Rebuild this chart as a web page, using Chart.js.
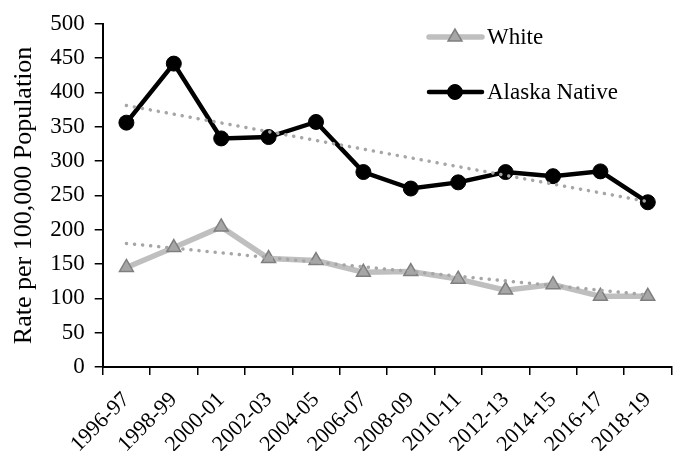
<!DOCTYPE html>
<html>
<head>
<meta charset="utf-8">
<script src="https://cdn.jsdelivr.net/npm/chart.js@4"></script>
<style>
  body { margin: 0; background: #fff; }
  #wrap { width: 681px; height: 451px; }
</style>
</head>
<body>
<div id="wrap"><canvas id="chart"></canvas></div>
<script>
// categories and values
const years = ["1996-97","1998-99","2000-01","2002-03","2004-05","2006-07",
               "2008-09","2010-11","2012-13","2014-15","2016-17","2018-19"];
const white = [145, 174, 204, 158, 155, 138, 139, 128, 112, 120, 103, 103];
const alaska = [356, 442, 333, 335, 357, 284, 260, 269, 284, 278, 285, 240];
// linear trend lines, only the end points
const trendWhite = [180, null, null, null, null, null, null, null, null, null, null, 105];
const trendAlaska = [381, null, null, null, null, null, null, null, null, null, null, 241];
const yTicks = [0, 50, 100, 150, 200, 250, 300, 350, 400, 450, 500];

const FONT = "'Liberation Serif', 'Times New Roman', serif";

// legend drawn by hand, two rows far apart like the original
const legendBox = {
  id: 'legendBox',
  afterDraw(chart) {
    const ctx = chart.ctx;
    const rows = [
      { ds: chart.data.datasets[0], y: 37 },
      { ds: chart.data.datasets[1], y: 92 }
    ];
    ctx.save();
    rows.forEach(r => {
      ctx.strokeStyle = r.ds.borderColor;
      ctx.lineWidth = r.ds.borderWidth;
      ctx.lineCap = 'round';
      ctx.beginPath();
      ctx.moveTo(429, r.y);
      ctx.lineTo(482, r.y);
      ctx.stroke();
      ctx.fillStyle = r.ds.pointBackgroundColor;
      ctx.strokeStyle = r.ds.pointBorderColor;
      ctx.lineWidth = r.ds.pointBorderWidth;
      Chart.helpers.drawPoint(ctx, {
        pointStyle: r.ds.pointStyle,
        radius: r.ds.pointRadius,
        borderWidth: r.ds.pointBorderWidth,
        rotation: 0
      }, 455, r.y);
      ctx.fillStyle = '#000';
      ctx.font = '23px ' + FONT;
      ctx.textBaseline = 'middle';
      ctx.fillText(r.ds.label, 487, r.y + 1);
    });
    ctx.restore();
  }
};

const ctx = document.getElementById('chart').getContext('2d');
new Chart(ctx, {
  type: 'line',
  data: {
    labels: years,
    datasets: [
      {
        label: 'White',
        data: white,
        borderColor: '#bfbfbf',
        borderWidth: 5.5,
        pointStyle: 'triangle',
        pointRadius: 8,
        pointBackgroundColor: '#a6a6a6',
        pointBorderColor: '#7f7f7f',
        pointBorderWidth: 1.5,
        tension: 0,
        order: 3
      },
      {
        label: 'Alaska Native',
        data: alaska,
        borderColor: '#000',
        borderWidth: 4.5,
        pointStyle: 'circle',
        pointRadius: 7.5,
        pointBackgroundColor: '#000',
        pointBorderColor: '#000',
        pointBorderWidth: 1,
        tension: 0,
        order: 2
      },
      {
        label: 'trend white',
        data: trendWhite,
        spanGaps: true,
        borderColor: '#a6a6a6',
        borderWidth: 3.5,
        borderDash: [0.1, 8],
        borderCapStyle: 'round',
        pointRadius: 0,
        order: 1
      },
      {
        label: 'trend alaska',
        data: trendAlaska,
        spanGaps: true,
        borderColor: '#a6a6a6',
        borderWidth: 3.5,
        borderDash: [0.1, 8],
        borderCapStyle: 'round',
        pointRadius: 0,
        order: 1
      }
    ]
  },
  options: {
    responsive: true,
    maintainAspectRatio: false,
    animation: false,
    layout: { padding: { top: 10, right: 9, left: 9, bottom: 0 } },
    plugins: {
      legend: { display: false },
      tooltip: { enabled: false }
    },
    scales: {
      x: {
        offset: true,
        afterFit(scale) { scale.height = 84; },
        grid: { display: true, drawOnChartArea: false, drawTicks: true, tickLength: 8, color: '#000', lineWidth: 1.5, offset: true },
        border: { color: '#000', width: 2 },
        ticks: {
          color: '#000',
          font: { family: FONT, size: 22 },
          minRotation: 45,
          maxRotation: 45,
          autoSkip: false,
          padding: 12
        }
      },
      y: {
        min: 0,
        max: 500,
        afterBuildTicks(axis) { axis.ticks = yTicks.map(v => ({ value: v })); },
        grid: { display: true, drawOnChartArea: false, drawTicks: true, tickLength: 8, color: '#000', lineWidth: 1.5 },
        border: { color: '#000', width: 2 },
        ticks: {
          color: '#000',
          font: { family: FONT, size: 23 },
          padding: 10
        },
        title: {
          display: true,
          text: 'Rate per 100,000 Population',
          color: '#000',
          font: { family: FONT, size: 26 },
          padding: { top: 0, bottom: 0 }
        }
      }
    }
  },
  plugins: [legendBox]
});
</script>
</body>
</html>
